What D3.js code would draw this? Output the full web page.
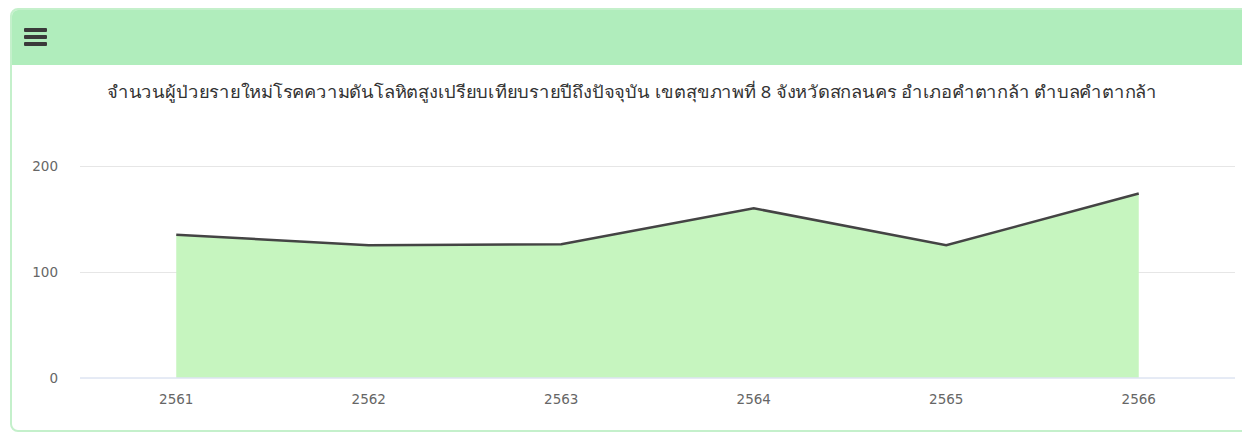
<!DOCTYPE html>
<html>
<head>
<meta charset="utf-8">
<script src="https://d3js.org/d3.v7.min.js"></script>
<style>
  body { margin: 0; background: #fff; font-family: "DejaVu Sans", "Noto Sans", sans-serif; }
  #card {
    position: absolute; left: 10px; top: 8px; width: 1240px; height: 424px;
    border: 2px solid #c4f0cb; border-radius: 8px; box-sizing: border-box; overflow: hidden;
  }
  #head { height: 55px; background: #b0edbc; position: relative; }
  .bar { position: absolute; left: 12px; width: 23px; height: 4px; background: #3a3a3a; border-radius: 1px; }
</style>
</head>
<body>
<div id="card">
  <div id="head">
    <div class="bar" style="top:18px"></div>
    <div class="bar" style="top:25px"></div>
    <div class="bar" style="top:32px"></div>
  </div>
</div>
<script>
const years = ['2561', '2562', '2563', '2564', '2565', '2566'];
const patients = [135, 125, 126, 160, 125, 174];
const yTicks = [0, 100, 200];
const title = 'จำนวนผู้ป่วยรายใหม่โรคความดันโลหิตสูงเปรียบเทียบรายปีถึงปัจจุบัน เขตสุขภาพที่ 8 จังหวัดสกลนคร อำเภอคำตากล้า ตำบลคำตากล้า';

const W = 1242, H = 432;
const svg = d3.select('body').append('svg')
    .attr('width', W).attr('height', H)
    .style('position', 'absolute').style('left', 0).style('top', 0);

const plotLeft = 80, plotRight = 1235, plotTop = 166, plotBottom = 377.5;

const x = d3.scaleBand(years, [plotLeft, plotRight]);
const y = d3.scaleLinear([0, 200], [plotBottom, plotTop]);
const cx = d => x(d) + x.bandwidth() / 2;

svg.append('text')
    .attr('x', 632).attr('y', 98)
    .attr('text-anchor', 'middle')
    .attr('fill', '#333').attr('font-size', 17)
    .attr('font-family', '"Noto Sans", sans-serif')
    .attr('textLength', 1050).attr('lengthAdjust', 'spacingAndGlyphs')
    .text(title);

// grid
svg.append('g').selectAll('line').data(yTicks.slice(1)).join('line')
    .attr('x1', plotLeft).attr('x2', plotRight)
    .attr('y1', d => Math.round(y(d)) + 0.5).attr('y2', d => Math.round(y(d)) + 0.5)
    .attr('stroke', '#e6e6e6');

const rows = years.map((k, i) => ({k, v: patients[i]}));

svg.append('path').datum(rows)
    .attr('fill', '#c6f5bf')
    .attr('d', d3.area().x(d => cx(d.k)).y0(plotBottom).y1(d => y(d.v)));

svg.append('path').datum(rows)
    .attr('fill', 'none').attr('stroke', '#444').attr('stroke-width', 2.5)
    .attr('d', d3.line().x(d => cx(d.k)).y(d => y(d.v)));

// x axis
svg.append('line')
    .attr('x1', plotLeft).attr('x2', plotRight)
    .attr('y1', plotBottom + 0.5).attr('y2', plotBottom + 0.5)
    .attr('stroke', '#ccd6eb');

svg.append('g').selectAll('text').data(years).join('text')
    .attr('x', d => cx(d)).attr('y', 404)
    .attr('text-anchor', 'middle')
    .attr('fill', '#666').attr('font-size', 13.5)
    .text(d => d);

svg.append('g').selectAll('text').data(yTicks).join('text')
    .attr('x', 58).attr('y', d => y(d) + 5)
    .attr('text-anchor', 'end')
    .attr('fill', '#666').attr('font-size', 13.5)
    .text(d => d);
</script>
</body>
</html>
